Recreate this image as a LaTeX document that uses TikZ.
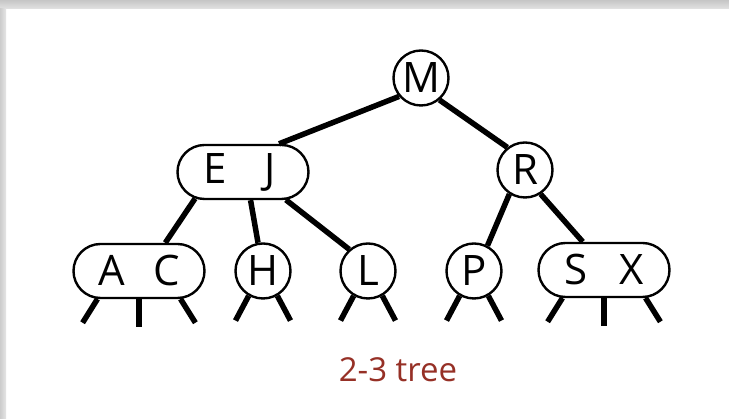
\documentclass[tikz,border=0pt]{standalone}
\usepackage{fontspec}
\setsansfont{Open Sans}
\usetikzlibrary{shapes.misc,positioning}
\definecolor{capred}{RGB}{150,48,38}
\newcommand{\pair}[2]{\makebox[0pt]{#1}\hspace{55pt}\makebox[0pt]{#2}}
\tikzset{
  key/.style={draw,circle,fill=white,line width=2.4pt,minimum size=55pt,inner sep=0pt,
    font=\fontsize{42}{44}\selectfont\sffamily},
  keys/.style={key,rounded rectangle,minimum width=131pt,minimum height=54pt},
  link/.style={line width=5.5pt},
}
\begin{document}
\begin{tikzpicture}[x=1pt,y=1pt]
\pgfmathsetmacro{\stub}{28}
\useasboundingbox (0,0) rectangle (729,419);
\fill[white] (0,0) rectangle (729,419);
\shade[top color=gray!45,bottom color=gray!22] (0,410) rectangle (729,419);
\shade[left color=gray!40,right color=gray!20] (0,0) rectangle (6,410);
% root and inner nodes
\node[key] (M) at (421,341) {M};
\node[keys] (EJ) at (243,247) {\pair{E}{J}};
\node[key] (R) at (525,249) {R};
% bottom row
\node[keys] (AC) at (139,148) {\pair{A}{C}};
\node[key] (H) at (263,148) {H};
\node[key] (L) at (368,148) {L};
\node[key] (P) at (474,148) {P};
\node[keys] (SX) at (604,149) {\pair{S}{X}};
% links
\draw[link] (M.220) -- (EJ.38);
\draw[link] (M.-50) -- (R.128);
\draw[link] (EJ.209) -- (AC.47);
\draw[link] (EJ.285) -- (H.100);
\draw[link] (EJ.-33) -- (L.131);
\draw[link] (R.237) -- (P.62);
\draw[link] (R.303) -- (SX.127);
% null links
\foreach \n in {H,L,P} {
  \draw[link] (\n.-120) -- ++(-118:\stub);
  \draw[link] (\n.-60) -- ++(-62:\stub);
}
\foreach \n in {AC,SX} {
  \draw[link] (\n.214) -- ++(-122:\stub);
  \draw[link] (\n.south) -- ++(0,-\stub);
  \draw[link] (\n.326) -- ++(-58:\stub);
}
\node[text=capred,font=\fontsize{33}{35}\selectfont\sffamily] (cap) at (398,49) {2-3 tree};
\end{tikzpicture}
\end{document}
